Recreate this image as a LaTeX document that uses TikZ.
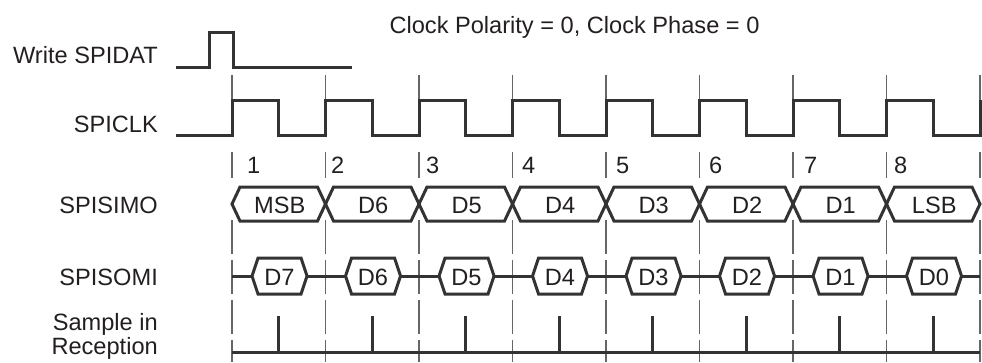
\documentclass[tikz,border=0pt]{standalone}
\usepackage{fontspec}
\setmainfont{Liberation Sans}
\definecolor{sigc}{HTML}{333333}
\definecolor{thinc}{HTML}{666666}
\definecolor{txtc}{HTML}{231F20}
\begin{document}
\begin{tikzpicture}[x=1pt,y=-1pt,
  sig/.style={line width=3pt, draw=sigc},
  thinline/.style={line width=1.1pt, draw=thinc},
  dashline/.style={line width=1.1pt, draw=thinc, dash pattern=on 34pt off 6pt},
  txt/.style={inner sep=0pt, font=\fontsize{23.6}{28}\selectfont, text=txtc},
  lbl/.style={txt, anchor=base east},
  num/.style={txt, anchor=base west},
  bus/.style={txt, anchor=base}]
\useasboundingbox (0,0) rectangle (982,362);

% guide lines at period boundaries
\foreach \i in {0,...,8}{
  \pgfmathsetmacro{\bx}{232+93.5*\i}
  \draw[thinline] (\bx,75) -- (\bx,100);
  \draw[thinline] (\bx,152) -- (\bx,178);
  \draw[dashline] (\bx,220) -- (\bx,362);
}

% labels
\node[txt, anchor=base] (title) at (574.5,33) {Clock Polarity = 0, Clock Phase = 0};
\node[lbl] (lwr) at (158,63) {Write SPIDAT};
\node[lbl] (lclk) at (158,132) {SPICLK};
\node[lbl] (lsimo) at (158,213) {SPISIMO};
\node[lbl] (lsomi) at (158,285) {SPISOMI};
\node[lbl] (lsam1) at (158,330) {Sample in};
\node[lbl] (lsam2) at (158,354) {Reception};

% Write SPIDAT
\draw[sig] (176,67) -- (209,67) -- (209,32) -- (233,32) -- (233,67) -- (352,67);

% SPICLK
\draw[sig] (176,135)
  \foreach \i in {0,...,7}{
    -- ({232+93.5*\i},135) -- ({232+93.5*\i},100)
    -- ({278.75+93.5*\i},100) -- ({278.75+93.5*\i},135) }
  -- (980,135) -- (980,100);

% bit numbers
\foreach \i/\nx in {1/247,2/331,3/426,4/522,5/616,6/709,7/804,8/894}{
  \node[num] (n\i) at (\nx,173) {\i};
}

% SPISIMO bus
\foreach \t [count=\i from 0] in {MSB,D6,D5,D4,D3,D2,D1,LSB}{
  \pgfmathsetmacro{\L}{232+93.5*\i}
  \pgfmathsetmacro{\R}{\L+93.5}
  \pgfmathsetmacro{\M}{\L+46.75}
  \draw[sig] (\L,204) -- (\L+8,187) -- (\R-8,187) -- (\R,204) -- (\R-8,221) -- (\L+8,221) -- cycle;
  \node[bus] (simo\i) at (\M+1,213) {\t};
}

% SPISOMI
\draw[sig] (232,276) -- (980,276);
\foreach \t [count=\i from 0] in {D7,D6,D5,D4,D3,D2,D1,D0}{
  \pgfmathsetmacro{\M}{232+93.5*\i+47.5}
  \draw[sig, fill=white] (\M-27.5,276) -- (\M-21.5,258) -- (\M+21.5,258) -- (\M+27.5,276) -- (\M+21.5,294) -- (\M-21.5,294) -- cycle;
  \node[bus] (somi\i) at (\M,285) {\t};
}

% Sample in Reception
\draw[sig] (232,352) -- (980,352);
\foreach \i in {0,...,7}{
  \pgfmathsetmacro{\M}{232+93.5*\i+46.75}
  \draw[sig] (\M,316) -- (\M,352);
}
\end{tikzpicture}
\end{document}
